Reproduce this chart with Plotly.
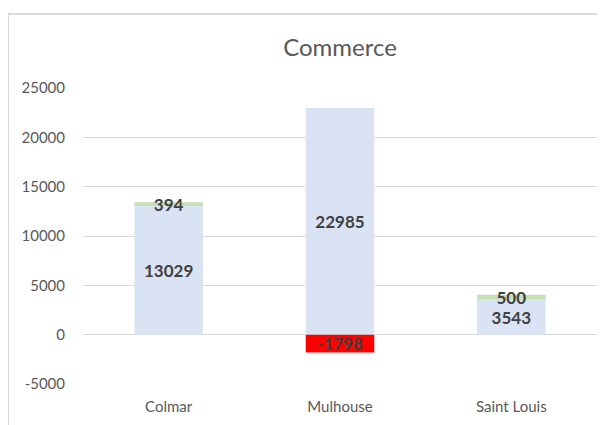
import plotly.graph_objects as go

categories = ["Colmar", "Mulhouse", "Saint Louis"]
base_values = [13029, 22985, 3543]
increase_values = [394, None, 500]
decrease_values = [None, -1798, None]
tick_vals = [-5000, 0, 5000, 10000, 15000, 20000, 25000]
tick_text = ["-5000", "0", "5000", "10000", "15000", "20000", "25000"]

FONT = "Lato, Carlito, 'Open Sans', sans-serif"
label_font = dict(family=FONT, size=17, color="#404040")

fig = go.Figure()
fig.add_trace(go.Bar(
    x=categories, y=base_values, name="Base",
    marker=dict(color="#DAE3F3", line=dict(width=0)),
    text=[str(v) for v in base_values], textposition="inside",
    insidetextanchor="middle", textfont=label_font, constraintext="none",
    texttemplate="<b>%{text}</b>",
))
fig.add_trace(go.Bar(
    x=categories, y=increase_values, name="Hausse",
    marker=dict(color="#C5E0B4", line=dict(width=0)),
    text=[str(v) if v is not None else "" for v in increase_values],
    textposition="inside", insidetextanchor="middle", textfont=label_font,
    constraintext="none", texttemplate="<b>%{text}</b>",
))
fig.add_trace(go.Bar(
    x=categories, y=decrease_values, name="Baisse",
    marker=dict(color="#FF0000", line=dict(width=0)),
    text=[str(v) if v is not None else "" for v in decrease_values],
    textposition="inside", insidetextanchor="middle", textfont=label_font,
    constraintext="none", texttemplate="<b>%{text}</b>",
))

fig.update_layout(
    width=597, height=417,
    margin=dict(l=75, r=8, t=80, b=41),
    barmode="relative", bargap=0.6,
    showlegend=False,
    plot_bgcolor="white", paper_bgcolor="white",
    uniformtext=dict(mode=False),
    title=dict(text="Commerce", x=0.5, xanchor="center", xref="paper",
               y=0.906, yanchor="middle", yref="container",
               font=dict(family=FONT, size=24, color="#595959")),
    xaxis=dict(showgrid=False, showline=False, ticks="", ticklabelstandoff=12,
               tickfont=dict(family=FONT, size=15, color="#595959")),
    yaxis=dict(range=[-5000, 25000], tickvals=tick_vals, ticktext=tick_text,
               showgrid=True, gridcolor="#D9D9D9", gridwidth=1,
               zeroline=True, zerolinecolor="#D9D9D9", zerolinewidth=1,
               showline=False, ticks="", ticklabelstandoff=17,
               tickfont=dict(family=FONT, size=15, color="#595959")),
    shapes=[dict(type="rect", xref="paper", yref="paper",
                 x0=-75/514, x1=1.1, y0=-0.3, y1=(376-6)/296,
                 line=dict(color="#D9D9D9", width=2), fillcolor="rgba(0,0,0,0)",
                 layer="below")],
)

fig.write_html("out.html")
